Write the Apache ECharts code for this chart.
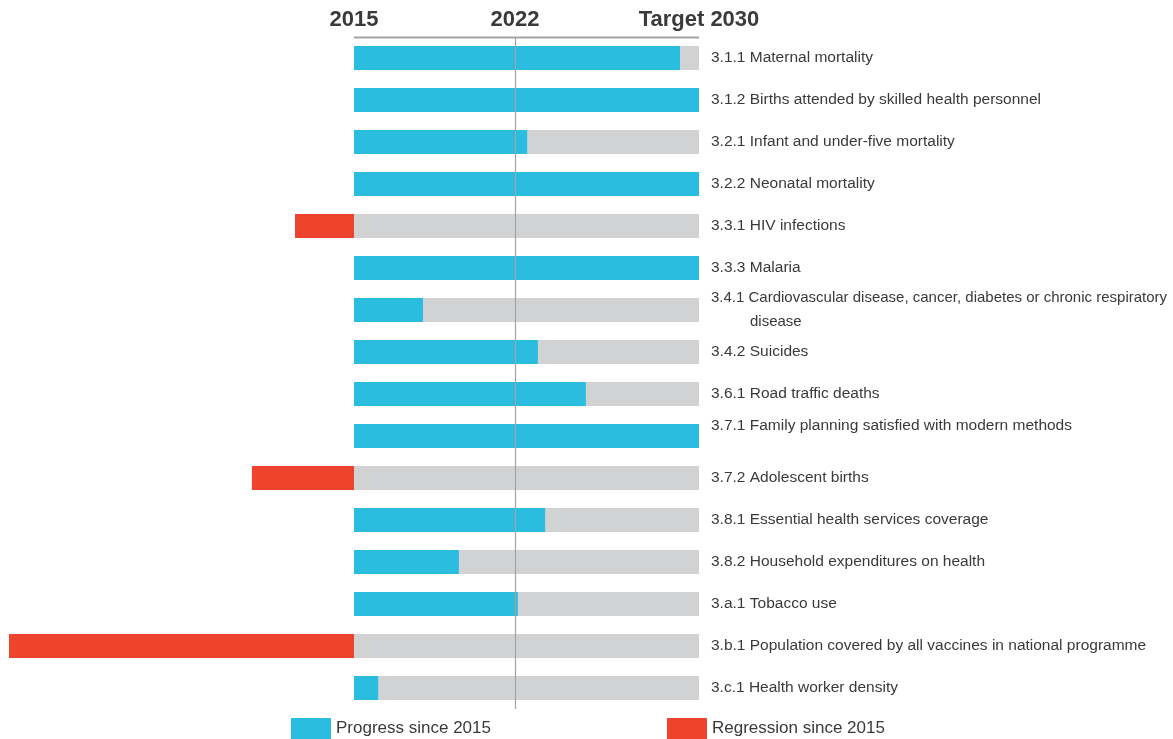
<!DOCTYPE html>
<html lang="en">
<head>
    <meta charset="UTF-8">
    <title>SDG 3 progress</title>
    <script src="https://cdn.jsdelivr.net/npm/echarts@6/dist/echarts.min.js"></script>
    <style>
        html, body { margin: 0; padding: 0; background: #fff; }
        #chart { width: 1173px; height: 739px; }
    </style>
</head>
<body>
<div id="chart"></div>
<script>
    // indicators, top to bottom
    var categories = [
        '3.1.1 Maternal mortality',
        '3.1.2 Births attended by skilled health personnel',
        '3.2.1 Infant and under-five mortality',
        '3.2.2 Neonatal mortality',
        '3.3.1 HIV infections',
        '3.3.3 Malaria',
        '3.4.1 Cardiovascular disease, cancer, diabetes or chronic respiratory\ndisease',
        '3.4.2 Suicides',
        '3.6.1 Road traffic deaths',
        '3.7.1 Family planning satisfied with modern methods',
        '3.7.2 Adolescent births',
        '3.8.1 Essential health services coverage',
        '3.8.2 Household expenditures on health',
        '3.a.1 Tobacco use',
        '3.b.1 Population covered by all vaccines in national programme',
        '3.c.1 Health worker density'
    ];
    // % of the way to the 2030 target
    var progress   = [94.5, 100, 50.2, 100, '-', 100, 20, 53.3, 67.2, 100, '-', 55.4, 30.4, 47.5, '-', 7];
    var regression = ['-', '-', '-', '-', -17.1, '-', '-', '-', '-', '-', -29.6, '-', '-', '-', -100, '-'];
    var target     = [100, 100, 100, 100, 100, 100, 100, 100, 100, 100, 100, 100, 100, 100, 100, 100];
    var yearMarks  = [[0, '2015'], [46.67, '2022'], [100, 'Target 2030']];

    var BLUE = '#2bbde0', RED = '#ee442e', GREY = '#d1d2d4', TXT = '#3a3a3a';
    var FONT = '"Liberation Sans", sans-serif';

    var myChart = echarts.init(document.getElementById('chart'));
    var option = {
        animation: false,
        grid: { left: 9, right: 474, top: 37, bottom: 30, outerBoundsMode: 'none', containLabel: false },
        legend: {
            data: ['Progress since 2015', 'Regression since 2015'],
            left: 291, top: 718, padding: 0,
            itemWidth: 40, itemHeight: 21, itemGap: 176,
            icon: 'rect',
            textStyle: { color: TXT, fontSize: 17, fontFamily: FONT }
        },
        xAxis: {
            type: 'value', min: -100, max: 100,
            show: false
        },
        yAxis: {
            type: 'category',
            data: categories,
            inverse: true,
            position: 'right',
            axisLine: { show: false },
            axisTick: { show: false },
            axisLabel: {
                margin: 12,
                align: 'left',
                color: TXT,
                fontSize: 15.5,
                fontFamily: FONT,
                formatter: function (v) {
                    var parts = v.split('\n');
                    if (parts.length > 1) return '{a|' + parts[0] + '}\n{b|' + parts[1] + '}';
                    if (v.indexOf('3.7.1') === 0) return '{up|' + v + '}';
                    return v;
                },
                rich: {
                    a: { color: TXT, fontSize: 15, fontFamily: FONT, lineHeight: 24 },
                    b: { color: TXT, fontSize: 15, fontFamily: FONT, lineHeight: 24, padding: [0, 0, 0, 39] },
                    up: { color: TXT, fontSize: 15.5, fontFamily: FONT, padding: [0, 0, 20, 0] }
                }
            }
        },
        series: [{
            name: 'target',
            type: 'bar',
            data: target,
            barWidth: 24,
            barGap: '-100%',
            silent: true,
            itemStyle: { color: GREY },
            z: 1
        }, {
            name: 'Progress since 2015',
            type: 'bar',
            data: progress,
            barWidth: 24,
            barGap: '-100%',
            itemStyle: { color: BLUE },
            z: 2
        }, {
            name: 'Regression since 2015',
            type: 'bar',
            data: regression,
            barWidth: 24,
            barGap: '-100%',
            itemStyle: { color: RED },
            z: 2,
            markLine: {
                silent: true,
                symbol: 'none',
                label: { show: false },
                lineStyle: { color: '#a3a3a3', width: 1.2, type: 'solid' },
                data: [{ xAxis: yearMarks[1][0] }],
                z: 5
            }
        }]
    };
    myChart.setOption(option);

    // year headers and the rule under them, placed with the axis scale
    var ruleY = 37.5;
    var x0 = myChart.convertToPixel({ xAxisIndex: 0 }, 0);
    var x1 = myChart.convertToPixel({ xAxisIndex: 0 }, 100);
    var graphics = [{
        type: 'line',
        shape: { x1: x0, y1: ruleY, x2: x1, y2: ruleY },
        style: { stroke: '#a3a3a3', lineWidth: 2 }
    }];
    yearMarks.forEach(function (m) {
        graphics.push({
            type: 'text',
            x: myChart.convertToPixel({ xAxisIndex: 0 }, m[0]),
            y: 20,
            style: {
                text: m[1],
                fill: TXT,
                font: 'bold 22px "Liberation Sans", sans-serif',
                align: 'center',
                verticalAlign: 'middle'
            }
        });
    });
    myChart.setOption({ graphic: graphics });
</script>
</body>
</html>
